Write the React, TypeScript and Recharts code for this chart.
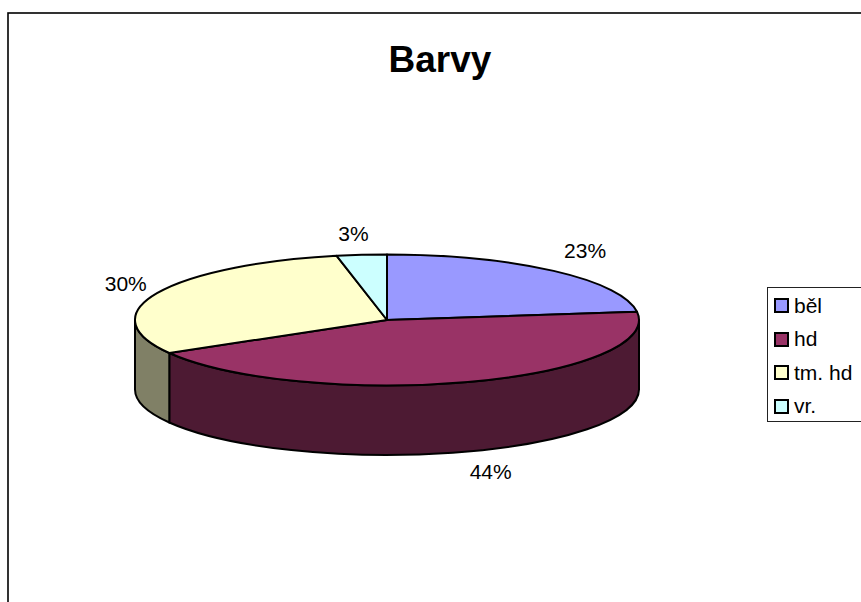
import { PieChart, Pie, Legend } from 'recharts';

const categories = ['běl', 'hd', 'tm. hd', 'vr.'];
const values = [23, 43.6, 30.2, 3.2];
const topColors = ['#9999FF', '#993366', '#FFFFCC', '#CCFFFF'];
const wallColors = ['#4D4D80', '#4D1A33', '#808066', '#668080'];

const chartData = categories.map((name, i) => ({
  name,
  value: values[i],
  fill: topColors[i],
  wall: wallColors[i],
}));

const FONT = '"Liberation Sans", Arial, sans-serif';
const RX = 252;
const RY = 65.5;
const DEPTH = 69.5;
// hand placement of the percent labels relative to the label ellipse
const labelNudge = [
  [3, -4],
  [9, 0],
  [8, -1],
  [-4, 0],
];

const SlicePie = (props: any) => {
  const { cx, cy, startAngle, endAngle, fill, wall } = props;
  const pt = (deg: number, dy = 0) => {
    const r = (deg * Math.PI) / 180;
    return `${cx + RX * Math.cos(r)} ${cy - RY * Math.sin(r) + dy}`;
  };
  const large = startAngle - endAngle > 180 ? 1 : 0;
  // only the part of the rim on the front half of the ellipse shows
  const a1 = Math.min(startAngle, 0);
  const a2 = Math.max(endAngle, -180);
  return (
    <g>
      {a1 > a2 && (
        <path
          d={`M ${pt(a1)} A ${RX} ${RY} 0 0 1 ${pt(a2)} L ${pt(a2, DEPTH)} A ${RX} ${RY} 0 0 0 ${pt(a1, DEPTH)} Z`}
          fill={wall}
          stroke="#000"
          strokeWidth={2}
          strokeLinejoin="round"
        />
      )}
      <path
        d={`M ${cx} ${cy} L ${pt(startAngle)} A ${RX} ${RY} 0 ${large} 1 ${pt(endAngle)} Z`}
        fill={fill}
        stroke="#000"
        strokeWidth={2}
        strokeLinejoin="round"
      />
    </g>
  );
};

const PercentLabel = (props: any) => {
  const { cx, cy, midAngle, percent, index } = props;
  const r = (midAngle * Math.PI) / 180;
  const sin = Math.sin(r);
  const x = cx + 295 * Math.cos(r) + labelNudge[index][0];
  const y = cy - 87 * sin + (sin < 0 ? DEPTH : 0) + labelNudge[index][1];
  return (
    <text x={x} y={y} textAnchor="middle" dominantBaseline="central" fontFamily={FONT} fontSize={21} fill="#000">
      {`${Math.round(percent * 100)}%`}
    </text>
  );
};

const LegendBox = ({ payload }: any) => (
  <div
    style={{
      boxSizing: 'border-box',
      width: 110,
      height: 135,
      border: '1.3px solid #222',
      background: '#fff',
      paddingTop: 1,
      fontFamily: FONT,
      fontSize: 21,
      color: '#000',
    }}
  >
    {(payload || []).map((p: any) => (
      <div key={p.value} style={{ display: 'flex', alignItems: 'center', height: 33.5 }}>
        <span
          style={{
            boxSizing: 'border-box',
            width: 15,
            height: 15,
            marginLeft: 6,
            marginRight: 5,
            border: '2.5px solid #000',
            background: p.color,
          }}
        />
        {p.value}
      </div>
    ))}
  </div>
);

export default function App() {
  return (
    <div style={{ position: 'absolute', left: 0, top: 0, width: 861, height: 602, overflow: 'hidden', background: '#fff' }}>
      <PieChart width={861} height={602} margin={{ top: 0, right: 0, bottom: 0, left: 0 }}>
        <rect x={8} y={13} width={1000} height={1000} fill="none" stroke="#000" strokeWidth={1.6} />
        <text x={440} y={72} textAnchor="middle" fontFamily={FONT} fontSize={37} fontWeight="bold" fill="#000">
          Barvy
        </text>
        <Pie
          data={chartData}
          dataKey="value"
          nameKey="name"
          cx={387}
          cy={320}
          outerRadius={RX}
          startAngle={90}
          endAngle={-270}
          paddingAngle={0}
          shape={SlicePie}
          label={PercentLabel}
          labelLine={false}
          isAnimationActive={false}
        />
        <Legend
          layout="vertical"
          content={LegendBox}
          wrapperStyle={{ position: 'absolute', left: 767, top: 287, width: 110, bottom: 'auto', right: 'auto' }}
        />
      </PieChart>
    </div>
  );
}
